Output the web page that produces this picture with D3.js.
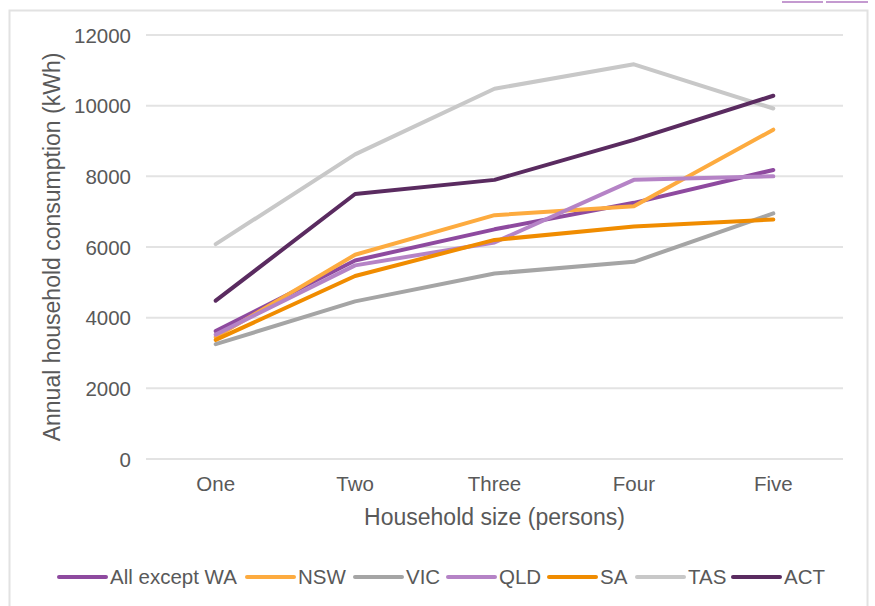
<!DOCTYPE html>
<html><head><meta charset="utf-8">
<script src="https://cdn.jsdelivr.net/npm/d3@7"></script>
<style>body{margin:0;background:#fff}svg{display:block}text{font-family:"Liberation Sans",Arial,sans-serif;fill:#595959}</style>
</head><body><svg id="c" width="875" height="606"></svg>
<script>
const categories = ["One","Two","Three","Four","Five"];
const seriesNames = ["All except WA","NSW","VIC","QLD","SA","TAS","ACT"];
const allExceptWA = [3620,5620,6500,7250,8180];
const nsw = [3450,5780,6900,7150,9320];
const vic = [3250,4460,5250,5580,6950];
const qld = [3520,5480,6130,7900,8000];
const sa  = [3370,5180,6200,6580,6780];
const tas = [6080,8620,10480,11170,9920];
const act = [4480,7500,7900,9030,10280];
const yTicks = [0,2000,4000,6000,8000,10000,12000];
const colors = ["#8e4a9f","#fdab3f","#a5a5a5","#b583c6","#f08c00","#c8c8c8","#5a2b60"];
const seriesValues = [allExceptWA,nsw,vic,qld,sa,tas,act];

const svg = d3.select("#c");
// outer frame
svg.append("rect").attr("x",9.5).attr("y",10.5).attr("width",858).attr("height",620)
  .attr("fill","none").attr("stroke","#e2e2e2").attr("stroke-width",2);
// fragments at top right
svg.append("line").attr("x1",782).attr("x2",823).attr("y1",2).attr("y2",2).attr("stroke","#c49ad0").attr("stroke-width",2);
svg.append("line").attr("x1",826).attr("x2",868).attr("y1",2).attr("y2",2).attr("stroke","#c49ad0").attr("stroke-width",2);

const x = d3.scaleBand().domain(categories).range([146,843]);
const y = d3.scaleLinear().domain([0,12000]).range([459,35]);

// gridlines
svg.append("g").selectAll("line").data(yTicks).join("line")
  .attr("x1",146).attr("x2",843).attr("y1",d=>y(d)).attr("y2",d=>y(d))
  .attr("stroke","#e3e3e3").attr("stroke-width",2);

// y axis labels
const yAxis = d3.axisLeft(y).tickValues(yTicks).tickSize(0).tickPadding(0).tickFormat(d3.format("d"));
const gy = svg.append("g").attr("transform","translate(131,0)").call(yAxis);
gy.select(".domain").remove();
gy.selectAll("text").attr("font-size","20.5px").attr("fill","#595959").attr("dy","0.35em")
  .style("font-family",'"Liberation Sans",Arial,sans-serif');

// x axis labels
const xAxis = d3.axisBottom(x).tickSize(0).tickPadding(0);
const gx = svg.append("g").attr("transform","translate(0,476)").call(xAxis);
gx.select(".domain").remove();
gx.selectAll("text").attr("font-size","20.5px").attr("fill","#595959").attr("dy","0.71em")
  .style("font-family",'"Liberation Sans",Arial,sans-serif');

// axis titles
svg.append("text").attr("x",494.5).attr("y",525).attr("text-anchor","middle")
  .attr("font-size","23px").text("Household size (persons)");
svg.append("text").attr("transform","translate(60,247) rotate(-90)").attr("text-anchor","middle")
  .attr("font-size","23px").text("Annual household consumption (kWh)");

// lines
const line = d3.line().x((d,i)=>x(categories[i])+x.bandwidth()/2).y(d=>y(d));
svg.append("g").selectAll("path").data(seriesValues).join("path")
  .attr("d",d=>line(d)).attr("fill","none").attr("stroke",(d,i)=>colors[i])
  .attr("stroke-width",4).attr("stroke-linejoin","round").attr("stroke-linecap","round");

// legend
const legendX = [59,247,355,448,549,637,733];
const lg = svg.append("g");
seriesNames.forEach((n,i)=>{
  lg.append("line").attr("x1",legendX[i]).attr("x2",legendX[i]+47).attr("y1",577).attr("y2",577)
    .attr("stroke",colors[i]).attr("stroke-width",4).attr("stroke-linecap","round");
  lg.append("text").attr("x",legendX[i]+51).attr("y",577).attr("dy","0.35em")
    .attr("font-size","20.5px").text(n);
});
</script></body></html>
